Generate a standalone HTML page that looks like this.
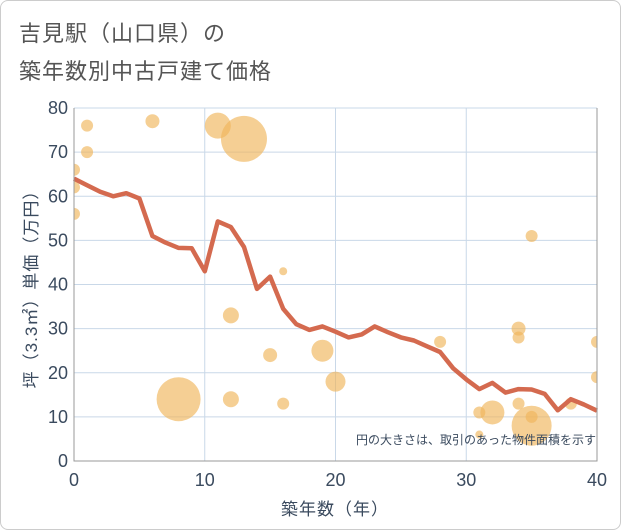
<!DOCTYPE html>
<html><head><meta charset="utf-8"><style>
body{margin:0;background:#fff;}
#wrap{position:relative;width:619px;height:528px;border:1px solid #ccc;border-radius:8px;background:#fff;overflow:hidden;}
text{font-family:"Liberation Sans","Noto Sans CJK JP",sans-serif;}
</style></head><body>
<div id="wrap">
<svg id="chart" width="621" height="530">
<defs><clipPath id="plotclip"><rect x="73" y="100" width="523" height="360"/></clipPath></defs>
<text x="18" y="40" font-size="22" fill="#555" letter-spacing="1">吉見駅（山口県）の</text>
<text x="18" y="78" font-size="22" fill="#555" letter-spacing="1">築年数別中古戸建て価格</text>
<g id="grid"></g><g id="bubbles" clip-path="url(#plotclip)"></g><g id="line"></g><g id="axes"></g>
<text x="595" y="443" font-size="12" fill="#3a4a5e" text-anchor="end">円の大きさは、取引のあった物件面積を示す</text>
<text x="334" y="514" font-size="17" fill="#3a4a5e" text-anchor="middle" letter-spacing="1">築年数（年）</text>
<text transform="translate(36,284) rotate(-90)" font-size="17" fill="#3a4a5e" text-anchor="middle" letter-spacing="1">坪（3.3㎡）単価（万円）</text>
</svg></div>
<script>
const xTicks=[0,10,20,30,40];
const yTicks=[0,10,20,30,40,50,60,70,80];
const lineAges=[0,1,2,3,4,5,6,7,8,9,10,11,12,13,14,15,16,17,18,19,20,21,22,23,24,25,26,27,28,29,30,31,32,33,34,35,36,37,38,39,40];
const linePrices=[64,62.5,61,60,60.7,59.5,51,49.5,48.3,48.2,43,54.3,53,48.5,39,41.8,34.5,31,29.7,30.5,29.3,28,28.7,30.5,29.2,28,27.3,26,24.7,21,18.5,16.3,17.7,15.5,16.3,16.2,15.2,11.5,14,12.8,11.4];
const bubbleAges=[0,0,0,1,1,6,11,13,8,12,12,15,16,16,19,20,28,31,31,32,34,34,34,35,35,35,38,40,40];
const bubblePrices=[66,62,56,76,70,77,76,73,14,33,14,24,43,13,25,18,27,11,6,11,30,28,13,51,8,10,13,27,19];
const bubbleSizes=[6,6,6,6,6,7,13,23,22,8,8,7,4,6,11,10,6,6,4,12,7,6,6,6,20,6,6,6,6];
const X0=73,X1=596,Y0=460,Y1=107;
const sx=v=>X0+(v-0)/40*(X1-X0);
const sy=v=>Y0-(v/80)*(Y0-Y1);
const NS='http://www.w3.org/2000/svg';
function mk(tag,attrs,parent){const e=document.createElementNS(NS,tag);for(const k in attrs)e.setAttribute(k,attrs[k]);parent.appendChild(e);return e;}
const grid=document.getElementById('grid'),axes=document.getElementById('axes'),bub=document.getElementById('bubbles'),ln=document.getElementById('line');
yTicks.forEach(t=>{
 const l=mk('line',{x1:X0,x2:X1,y1:sy(t),y2:sy(t),stroke:'#c9d8e8','stroke-width':1},grid);
 
 
 const tx=mk('text',{x:X0-6,y:sy(t)+6,'font-size':18,fill:'#3a4a5e','text-anchor':'end'},axes);
 tx.textContent=t;
 
 
});
xTicks.forEach(t=>{
 const l=mk('line',{x1:sx(t),x2:sx(t),y1:Y1,y2:Y0,stroke:'#c9d8e8','stroke-width':1},grid);
 
 
 const tx=mk('text',{x:sx(t),y:Y0+25,'font-size':18,fill:'#3a4a5e','text-anchor':'middle'},axes);
 tx.textContent=t;
 
 
});
const ax=mk('path',{d:`M${X0},${Y1}V${Y0}H${X1}V${Y1}`,fill:'none',stroke:'#999','stroke-width':1},axes);


bubbleAges.forEach((a,i)=>{
 const c=mk('circle',{cx:sx(a),cy:sy(bubblePrices[i]),r:bubbleSizes[i],fill:'#f0b55a','fill-opacity':0.65},bub);
 
 
});
const d=lineAges.map((a,i)=>(i?'L':'M')+sx(a).toFixed(1)+','+sy(linePrices[i]).toFixed(1)).join('');
const p=mk('path',{d:d,fill:'none',stroke:'#d46a4f','stroke-width':4.5,'stroke-linejoin':'round'},ln);


</script>
</body></html>
